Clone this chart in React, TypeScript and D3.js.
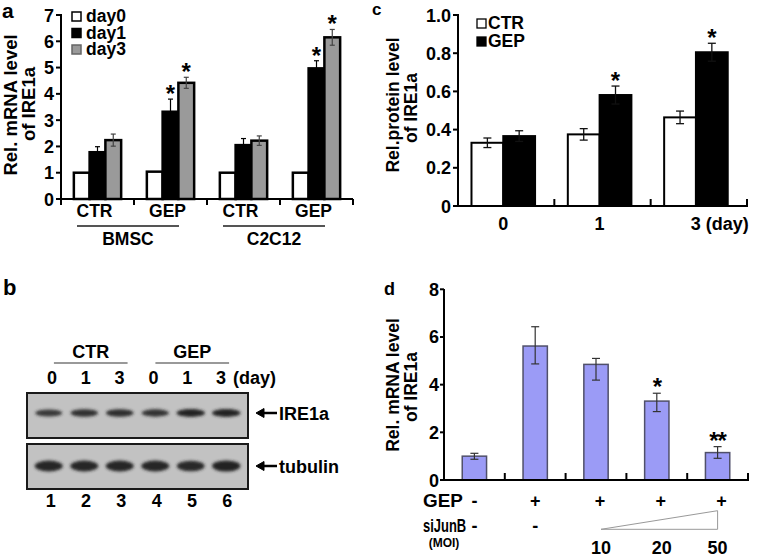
import React from "react";
import * as d3 from "d3";

// ---------- Panel a ----------
const aGroups = ["CTR", "GEP", "CTR", "GEP"];
const aCells = ["BMSC", "C2C12"];
const aSeries = ["day0", "day1", "day3"];
const aDay0 = [1.0, 1.04, 1.0, 1.0];
const aDay1 = [1.78, 3.32, 2.05, 4.97];
const aDay3 = [2.24, 4.42, 2.22, 6.15];
const aErr0 = [0, 0, 0, 0];
const aErr1 = [0.21, 0.48, 0.25, 0.29];
const aErr3 = [0.23, 0.21, 0.18, 0.3];
const aSig0 = ["", "", "", ""];
const aSig1 = ["", "*", "", "*"];
const aSig3 = ["", "*", "", "*"];
const aYTicks = [0, 1, 2, 3, 4, 5, 6, 7];

// ---------- Panel c ----------
const cDays = ["0", "1", "3"];
const cSeries = ["CTR", "GEP"];
const cCTR = [0.331, 0.375, 0.464];
const cGEP = [0.366, 0.581, 0.805];
const cErrCTR = [0.025, 0.03, 0.033];
const cErrGEP = [0.028, 0.047, 0.047];
const cSigCTR = ["", "", ""];
const cSigGEP = ["", "*", "*"];
const cYTicks = [0, 0.2, 0.4, 0.6, 0.8, 1.0];

// ---------- Panel b (western blot) ----------
const bLanes = ["1", "2", "3", "4", "5", "6"];
const bDays = ["0", "1", "3", "0", "1", "3"];
const bGroups = ["CTR", "GEP"];
const bIRE1a = [0.72, 0.82, 0.85, 0.8, 1.0, 1.0];
const bTubulin = [0.95, 0.95, 0.95, 0.95, 0.9, 1.0];

// ---------- Panel d ----------
const dGEP = ["-", "+", "+", "+", "+"];
const dSiJunB = ["-", "-", "", "", ""];
const dMOI = ["", "", "10", "20", "50"];
const dValues = [1.0, 5.62, 4.85, 3.31, 1.15];
const dErrHi = [0.12, 0.81, 0.25, 0.33, 0.25];
const dErrLo = [0.13, 0.75, 0.66, 0.44, 0.24];
const dSig = ["", "", "", "*", "**"];
const dYTicks = [0, 2, 4, 6, 8];

const FONT = "Arial, 'Liberation Sans', sans-serif";

function YLabel({ x1, x2, y1, y2, l1, l2, size }: any) {
  return (
    <g fontSize={size} fontWeight="bold" textAnchor="middle">
      <text transform={`translate(${x1},${y1}) rotate(-90)`}>{l1}</text>
      <text transform={`translate(${x2},${y2}) rotate(-90)`}>{l2}</text>
    </g>
  );
}

function ErrBar({ x, y0, y1, cap, color, sw }: any) {
  return (
    <g stroke={color} strokeWidth={sw} fill="none">
      <line x1={x} x2={x} y1={y0} y2={y1} />
      <line x1={x - cap / 2} x2={x + cap / 2} y1={y0} y2={y0} />
      <line x1={x - cap / 2} x2={x + cap / 2} y1={y1} y2={y1} />
    </g>
  );
}

function PanelA() {
  const x = d3.scaleBand<number>().domain(d3.range(aGroups.length)).range([61, 353]).padding(0);
  const bw = x.bandwidth();
  const x1 = d3.scaleBand<string>().domain(aSeries).range([0.176 * bw, 0.824 * bw]).padding(0);
  const y = d3.scaleLinear().domain([0, 7]).range([199, 15]);
  const vals = [aDay0, aDay1, aDay3];
  const errs = [aErr0, aErr1, aErr3];
  const sigs = [aSig0, aSig1, aSig3];
  const fills = ["#ffffff", "#000000", "#9a9a9a"];
  const errCol = ["#000", "#000", "#444"];
  const boundaries = d3.range(aGroups.length + 1).map((i) => 61 + i * bw);
  return (
    <g>
      <text x={2} y={18} fontSize={21} fontWeight="bold">a</text>
      <YLabel x1={17} x2={35} y1={105} y2={104} l1="Rel. mRNA level" l2="of IRE1a" size={18.5} />
      {aGroups.map((g, gi) =>
        aSeries.map((s, si) => {
          const v = vals[si][gi];
          const bx = (x(gi) as number) + (x1(s) as number);
          const w = x1.bandwidth();
          const e = errs[si][gi];
          const cx = bx + w / 2;
          return (
            <g key={`${gi}-${si}`}>
              <rect x={bx} y={y(v)} width={w} height={y(0) - y(v)} fill={fills[si]} stroke="#000" strokeWidth={2.5} />
              {e > 0 && <ErrBar x={cx} y0={y(v - e)} y1={y(v + e)} cap={5} color={errCol[si]} sw={1.2} />}
              {sigs[si][gi] && (
                <text x={cx} y={y(v + e) + 3} textAnchor="middle" fontSize={24} fontWeight="bold">
                  {sigs[si][gi]}
                </text>
              )}
            </g>
          );
        })
      )}
      <g stroke="#000" strokeWidth={2}>
        <line x1={61} x2={61} y1={14} y2={205} />
        <line x1={61} x2={353} y1={199} y2={199} />
        {aYTicks.map((t) => (
          <line key={t} x1={56} x2={61} y1={y(t)} y2={y(t)} />
        ))}
        {boundaries.slice(1).map((b, i) => (
          <line key={i} x1={b} x2={b} y1={199} y2={205} />
        ))}
      </g>
      <g fontSize={18} fontWeight="bold" textAnchor="end">
        {aYTicks.map((t) => (
          <text key={t} x={54} y={y(t) + 6.5}>{t}</text>
        ))}
      </g>
      <g fontSize={17.5} fontWeight="bold" textAnchor="middle">
        {aGroups.map((g, gi) => (
          <text key={gi} x={(x(gi) as number) + bw / 2 - 3} y={217}>{g}</text>
        ))}
        {aCells.map((c, ci) => {
          const l = (x(ci * 2) as number) + 16;
          const r = (x(ci * 2 + 1) as number) + bw - 28;
          return (
            <g key={c}>
              <line x1={l} x2={r} y1={226} y2={226} stroke="#555" strokeWidth={2} />
              <text x={(l + r) / 2} y={245}>{c}</text>
            </g>
          );
        })}
      </g>
      {aSeries.map((s, si) => (
        <rect key={s} x={72} y={12 + si * 16.5} width={9} height={9} fill={fills[si]} stroke={si === 2 ? "#666" : "#000"} strokeWidth={1.5} />
      ))}
      <text x={86} y={22} fontSize={17.5} fontWeight="bold">
        {aSeries.map((s, si) => (
          <tspan key={s} x={86} dy={si === 0 ? 0 : 16.5}>{s}</tspan>
        ))}
      </text>
    </g>
  );
}

function PanelC() {
  const x = d3.scaleBand<string>().domain(cDays).range([458, 747]).padding(0);
  const bw = x.bandwidth();
  const x1 = d3.scaleBand<string>().domain(cSeries).range([0.14 * bw, 0.8 * bw]).padding(0);
  const y = d3.scaleLinear().domain([0, 1]).range([206, 15]);
  const vals = [cCTR, cGEP];
  const errs = [cErrCTR, cErrGEP];
  const sigs = [cSigCTR, cSigGEP];
  const fills = ["#fff", "#000"];
  const boundaries = cDays.map((d) => (x(d) as number) + bw);
  const last = cDays.length - 1;
  return (
    <g>
      <text x={372} y={15} fontSize={17} fontWeight="bold">c</text>
      <YLabel x1={398.5} x2={417} y1={105} y2={108} l1="Rel.protein level" l2="of IRE1a" size={17.5} />
      {cDays.map((d, di) =>
        cSeries.map((s, si) => {
          const v = vals[si][di];
          const bx = (x(d) as number) + (x1(s) as number);
          const w = x1.bandwidth();
          const e = errs[si][di];
          const cx = bx + w / 2;
          return (
            <g key={`${di}-${si}`}>
              <rect x={bx} y={y(v)} width={w} height={y(0) - y(v)} fill={fills[si]} stroke="#000" strokeWidth={2} />
              <ErrBar x={cx} y0={y(v - e)} y1={y(v + e)} cap={8} color="#111" sw={1.3} />
              {sigs[si][di] && (
                <text x={cx} y={y(v + e) + 3} textAnchor="middle" fontSize={24} fontWeight="bold">
                  {sigs[si][di]}
                </text>
              )}
            </g>
          );
        })
      )}
      <g stroke="#000" strokeWidth={2}>
        <line x1={458} x2={458} y1={14} y2={207} />
        <line x1={458} x2={748} y1={206} y2={206} />
        {cYTicks.map((t) => (
          <line key={t} x1={453} x2={458} y1={y(t)} y2={y(t)} />
        ))}
        {boundaries.map((b, i) => (
          <line key={i} x1={b} x2={b} y1={199} y2={206} />
        ))}
      </g>
      <g fontSize={18} fontWeight="bold" textAnchor="end">
        {cYTicks.map((t) => (
          <text key={t} x={451} y={y(t) + 6.5}>{t === 0 ? "0" : t.toFixed(1)}</text>
        ))}
      </g>
      <g fontSize={18} fontWeight="bold">
        {cDays.map((d, di) =>
          di === last ? (
            <text key={d} x={(x(d) as number) + bw / 2 - 8} y={230} textAnchor="start">{`${d} (day)`}</text>
          ) : (
            <text key={d} x={(x(d) as number) + bw / 2 - 3} y={230} textAnchor="middle">{d}</text>
          )
        )}
      </g>
      {cSeries.map((s, si) => (
        <rect key={s} x={477} y={19 + si * 18} width={9} height={9} fill={fills[si]} stroke="#000" strokeWidth={1.3} />
      ))}
      <text x={488} y={28.5} fontSize={17.5} fontWeight="bold">
        {cSeries.map((s, si) => (
          <tspan key={s} x={488} dy={si === 0 ? 0 : 18}>{s}</tspan>
        ))}
      </text>
    </g>
  );
}

function PanelB() {
  const x = d3.scaleBand<string>().domain(bLanes).range([31, 244]).padding(0);
  const xDay = d3.scaleBand<number>().domain(d3.range(bDays.length)).range([35, 238]).padding(0);
  const xNum = d3.scaleBand<string>().domain(bLanes).range([33, 245]).padding(0);
  const bw = x.bandwidth();
  const cx = (l: string) => (x(l) as number) + bw / 2;
  const dx = (i: number) => (xDay(i) as number) + xDay.bandwidth() / 2;
  return (
    <g>
      <defs>
        <filter id="blur" x="-20%" y="-100%" width="140%" height="300%">
          <feGaussianBlur stdDeviation="1.6" />
        </filter>
      </defs>
      <text x={3} y={295} fontSize={22} fontWeight="bold">b</text>
      <g fontSize={18} fontWeight="bold" textAnchor="middle">
        {bGroups.map((g, gi) => {
          const l = dx(gi * 3) + 2;
          const r = dx(gi * 3 + 2) + 8;
          return (
            <g key={g}>
              <text x={(l + r) / 2} y={358}>{g}</text>
              <line x1={l} x2={r} y1={363} y2={363} stroke="#777" strokeWidth={1.5} />
            </g>
          );
        })}
        {bDays.map((d, i) => (
          <text key={i} x={dx(i)} y={384}>{d}</text>
        ))}
        <text x={233} y={384} textAnchor="start">(day)</text>
        {bLanes.map((l) => (
          <text key={l} x={(xNum(l) as number) + xNum.bandwidth() / 2} y={507}>{l}</text>
        ))}
      </g>
      {[{ y: 393, vals: bIRE1a, h: 3.6, name: "IRE1a", yc: 413 }, { y: 444, vals: bTubulin, h: 5, name: "tubulin", yc: 466 }].map((blot) => (
        <g key={blot.name}>
          <rect x={27} y={blot.y} width={221} height={45} fill="#c2c2c2" stroke="#1a1a1a" strokeWidth={2} />
          <g filter="url(#blur)">
            {bLanes.map((l, i) => (
              <ellipse
                key={l}
                cx={cx(l)}
                cy={blot.yc}
                rx={bw * 0.4 * (0.8 + 0.2 * blot.vals[i])}
                ry={blot.h * (0.75 + 0.35 * blot.vals[i])}
                fill="#222"
                opacity={0.55 + 0.45 * blot.vals[i]}
              />
            ))}
          </g>
          <g stroke="#000" strokeWidth={2.5} fill="#000">
            <line x1={262} x2={277} y1={blot.yc} y2={blot.yc} />
            <path d={`M256,${blot.yc} L264,${blot.yc - 4.5} L264,${blot.yc + 4.5} Z`} strokeWidth={1} />
          </g>
          <text x={279} y={blot.yc + 6.5} fontSize={18} fontWeight="bold">{blot.name}</text>
        </g>
      ))}
    </g>
  );
}

function PanelD() {
  const x = d3.scaleBand<number>().domain(d3.range(dValues.length)).range([444, 748]).padding(0);
  const bw = x.bandwidth();
  const y = d3.scaleLinear().domain([0, 8]).range([480, 289.3]);
  const cx = (i: number) => (x(i) as number) + bw / 2;
  const w = bw * 0.4;
  const triStart = dMOI.findIndex((m) => m !== "");
  const triEnd = dMOI.length - 1;
  return (
    <g>
      <text x={384} y={295} fontSize={18} fontWeight="bold">d</text>
      <YLabel x1={398.5} x2={417} y1={385} y2={387} l1="Rel. mRNA level" l2="of IRE1a" size={17.5} />
      {dValues.map((v, i) => (
        <g key={i}>
          <rect x={cx(i) - w / 2} y={y(v)} width={w} height={y(0) - y(v)} fill="#9b9bf6" stroke="#50506a" strokeWidth={1.5} />
          <ErrBar x={cx(i)} y0={y(v - dErrLo[i])} y1={y(v + dErrHi[i])} cap={8} color="#333" sw={1.2} />
          {dSig[i] && (
            <text x={cx(i)} y={y(v + dErrHi[i]) + 2} textAnchor="middle" fontSize={24} fontWeight="bold" letterSpacing={-1}>
              {dSig[i]}
            </text>
          )}
        </g>
      ))}
      <g stroke="#000" strokeWidth={2}>
        <line x1={444} x2={444} y1={289} y2={481} />
        <line x1={444} x2={749} y1={480} y2={480} />
        {dYTicks.map((t) => (
          <line key={t} x1={440} x2={444} y1={y(t)} y2={y(t)} />
        ))}
        {d3.range(dValues.length).map((i) => (
          <line key={i} x1={(x(i) as number) + bw} x2={(x(i) as number) + bw} y1={473} y2={480} />
        ))}
      </g>
      <g fontSize={18} fontWeight="bold" textAnchor="end">
        {dYTicks.map((t) => (
          <text key={t} x={439} y={y(t) + 6.5}>{t}</text>
        ))}
      </g>
      <g fontSize={18} fontWeight="bold">
        <text transform="translate(423,507) scale(1.05,1)">GEP</text>
        <text transform="translate(423,532) scale(0.72,1)">siJunB</text>
        <text x={444} y={547} fontSize={12} textAnchor="middle">(MOI)</text>
        {dGEP.map((s, i) => (
          <text key={i} x={cx(i) + (i >= 2 ? 4 : 0)} y={507} textAnchor="middle">{s}</text>
        ))}
        {dSiJunB.map((s, i) =>
          s ? (
            <text key={i} x={cx(i)} y={532} textAnchor="middle">{s}</text>
          ) : null
        )}
        {dMOI.map((s, i) =>
          s ? (
            <text key={i} x={cx(i) + (i === triEnd ? 0 : 5)} y={554} textAnchor="middle">{s}</text>
          ) : null
        )}
      </g>
      <path
        d={`M${cx(triStart) + 5},529.3 L${cx(triEnd)},510.7 L${cx(triEnd)},529.3 Z`}
        fill="none"
        stroke="#999"
        strokeWidth={1}
      />
    </g>
  );
}

export default function App() {
  return (
    <svg
      width={757}
      height={559}
      style={{ position: "absolute", left: 0, top: 0, background: "#fff" }}
      fontFamily={FONT}
    >
      <rect width={757} height={559} fill="#fff" />
      <PanelA />
      <PanelC />
      <PanelB />
      <PanelD />
    </svg>
  );
}
